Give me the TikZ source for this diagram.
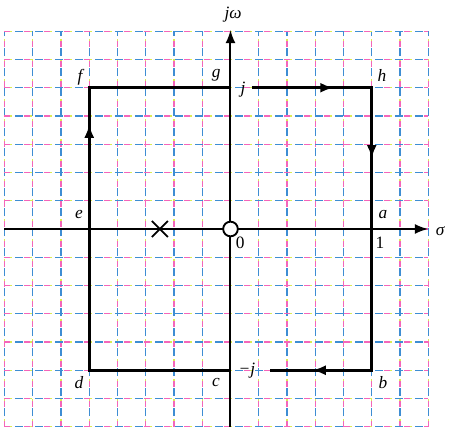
\documentclass[tikz,border=0pt]{standalone}
\usepackage{fontspec}
\setmainfont{Liberation Serif}
\usetikzlibrary{arrows.meta,shapes.misc}
\begin{document}
\begin{tikzpicture}[x=21.1875pt,y=21.1875pt,
  gridA/.style={line width=1.1pt,draw=magenta!60,dash pattern=on 6pt off 9pt},
  gridB/.style={line width=1.1pt,draw=cyan!60!blue!80,dash pattern=on 6pt off 9pt,dash phase=7pt},
  gridC/.style={line width=1.1pt,draw=yellow!80!green!70,dash pattern=on 2pt off 13pt,dash phase=11pt},
  axis/.style={line width=1.5pt,black},
  contour/.style={line width=2.4pt,black},
  tip/.style={-{Latex[length=10pt,width=7.5pt]}},
  lab/.style={font=\fontsize{13pt}{15pt}\selectfont\itshape,inner sep=0pt},
  num/.style={font=\fontsize{13pt}{15pt}\selectfont,inner sep=0pt}]
\useasboundingbox[fill=white] (-8.159,-7.044) rectangle (7.841,8.106);
% grid
\foreach \i in {-8,...,7} {
  \draw[gridA] (\i,-7) -- (\i,7);
  \draw[gridB] (\i,-7) -- (\i,7);
  \draw[gridC] (\i,-7) -- (\i,7);
}
\foreach \j in {-7,...,7} {
  \draw[gridA] (-8,\j) -- (7,\j);
  \draw[gridB] (-8,\j) -- (7,\j);
  \draw[gridC] (-8,\j) -- (7,\j);
}
% axes
\coordinate (xl) at (-8,0);
\coordinate (xr) at (7,0);
\coordinate (yb) at (0,-7);
\coordinate (yt) at (0,7.05);
\draw[axis,tip] (xl) -- (xr);
\draw[axis,tip] (yb) -- (yt);
\node[lab] (jw) at (0.09,7.6) {jω};
\node[lab] (sig) at (7.42,-0.08) {σ};
% contour corners
\coordinate (F) at (-5,5);
\coordinate (G) at (0,5);
\coordinate (H) at (5,5);
\coordinate (B) at (5,-5);
\coordinate (C) at (0,-5);
\coordinate (D) at (-5,-5);
\coordinate (T1) at (0.76,5);
\coordinate (TA) at (3.65,5);
\coordinate (RA) at (5,2.5);
\coordinate (B1) at (1.40,-5);
\coordinate (BA) at (2.9,-5);
\coordinate (LA) at (-5,3.7);
\draw[contour,line join=miter] (G) -- (F) -- (D) -- (C);
\draw[contour,line join=miter] (T1) -- (H) -- (B) -- (B1);
\draw[contour,tip] (T1) -- (TA);
\draw[contour,tip] (H) -- (RA);
\draw[contour,tip] (B) -- (BA);
\draw[contour,tip] (D) -- (LA);
% pole and zero
\node[draw,line width=1.4pt,black,cross out,minimum size=0.5*21.1875pt,inner sep=0pt] (pole) at (-2.5,0) {};
\node[draw,line width=1.4pt,black,circle,fill=white,minimum size=0.52*21.1875pt,inner sep=0pt] (zero) at (0,0) {};
% labels
\node[lab] (lf) at (-5.33,5.38) {f};
\node[lab] (lg) at (-0.51,5.45) {g};
\node[lab] (lh) at (5.36,5.42) {h};
\node[lab] (le) at (-5.36,0.5) {e};
\node[lab] (la) at (5.40,0.5) {a};
\node[num] (l1) at (5.29,-0.5) {1};
\node[num] (l0) at (0.34,-0.5) {0};
\node[lab] (ld) at (-5.36,-5.45) {d};
\node[lab] (lc) at (-0.51,-5.45) {c};
\node[lab] (lb) at (5.40,-5.45) {b};
\node[lab] (jp) at (0.44,4.92) {j};
\node[lab] (jm) at (0.58,-5.0) {−j};
\end{tikzpicture}
\end{document}
